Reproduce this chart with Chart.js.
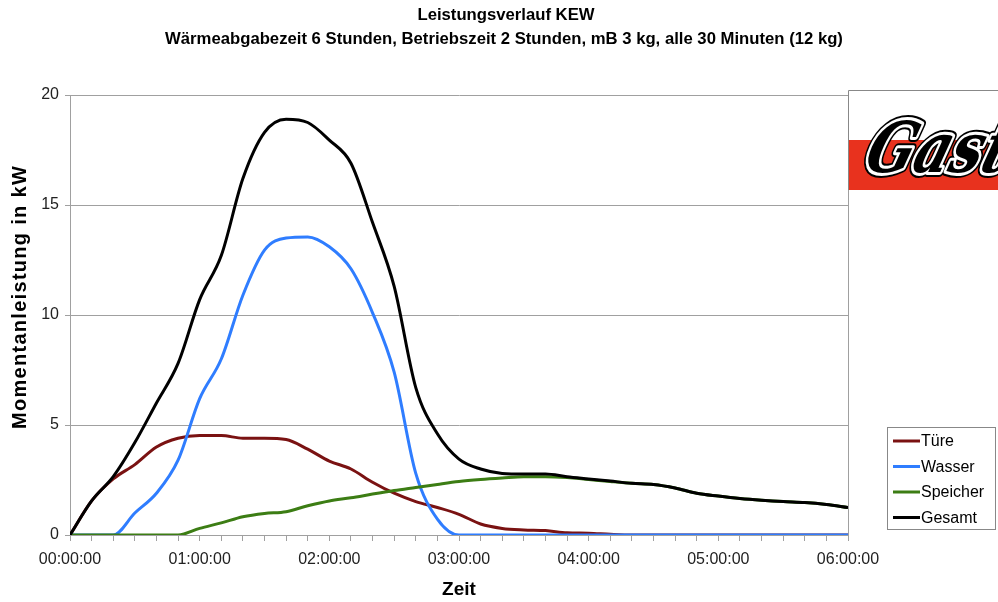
<!DOCTYPE html>
<html lang="de">
<head>
  <meta charset="UTF-8" />
  <title>Leistungsverlauf KEW</title>
  <script src="https://cdn.jsdelivr.net/npm/chart.js"></script>
  <style>
    html, body { margin: 0; padding: 0; background: #fff; }
    #wrap { width: 998px; height: 602px; position: relative; }
  </style>
</head>
<body>
  <div id="wrap"><canvas id="kew"></canvas></div>

  <script>
    // Zeitpunkte in Minuten (alle 10 Minuten)
    const minutes = [0, 10, 20, 30, 40, 50, 60, 70, 80, 90, 100, 110, 120, 130, 140, 150, 160, 170, 180,
      190, 200, 210, 220, 230, 240, 250, 260, 270, 280, 290, 300, 310, 320, 330, 340, 350, 360];

    const hourLabels = ['00:00:00', '01:00:00', '02:00:00', '03:00:00', '04:00:00', '05:00:00', '06:00:00'];

    // Momentanleistung in kW
    const tuere = [0, 1.55, 2.55, 3.2, 4.0, 4.4, 4.52, 4.52, 4.4, 4.4, 4.34, 3.9, 3.36, 3.0, 2.4, 1.9, 1.52, 1.25, 0.94,
      0.5, 0.3, 0.23, 0.2, 0.1, 0.08, 0.03, 0, 0, 0, 0, 0, 0, 0, 0, 0, 0, 0];
    const wasser = [0, 0, 0, 1.0, 1.9, 3.4, 6.2, 8.0, 10.9, 12.95, 13.5, 13.55, 13.1, 12.1, 10.1, 7.4, 2.8, 0.72, 0,
      0, 0, 0, 0, 0, 0, 0, 0, 0, 0, 0, 0, 0, 0, 0, 0, 0, 0];
    const speicher = [0, 0, 0, 0, 0, 0, 0.3, 0.55, 0.83, 0.98, 1.06, 1.33, 1.55, 1.69, 1.86, 2.02, 2.16, 2.3, 2.43,
      2.52, 2.59, 2.65, 2.65, 2.61, 2.52, 2.43, 2.35, 2.3, 2.14, 1.9, 1.77, 1.66, 1.58, 1.52, 1.48, 1.39, 1.25];
    const gesamt = [0, 1.55, 2.65, 4.2, 6.0, 7.8, 10.7, 12.7, 16.2, 18.3, 18.9, 18.75, 17.95, 16.9, 14.2, 11.3, 6.7, 4.6, 3.45,
      3.0, 2.8, 2.77, 2.77, 2.65, 2.55, 2.45, 2.35, 2.3, 2.14, 1.9, 1.77, 1.66, 1.58, 1.52, 1.48, 1.39, 1.25];

    const seriesNames = ['Türe', 'Wasser', 'Speicher', 'Gesamt'];
    const seriesColors = ['#7a1212', '#2f7dff', '#3c7d14', '#000000'];
    const seriesValues = [tuere, wasser, speicher, gesamt];

    const titleLines = ['Leistungsverlauf KEW',
      'Wärmeabgabezeit 6 Stunden, Betriebszeit 2 Stunden, mB 3 kg, alle 30 Minuten (12 kg)'];
    const yTitle = 'Momentanleistung in kW';

    const FONT = "'Liberation Sans', Arial, sans-serif";
    const GRID = '#a0a0a0';

    function points(values) {
      return minutes.map((m, i) => ({ x: m, y: values[i] }));
    }

    // Überschrift und y-Achsentitel (nicht auf den Plotbereich zentriert)
    const texts = {
      id: 'texts',
      afterDraw(chart) {
        const ctx = chart.ctx;
        ctx.save();
        ctx.fillStyle = '#000';
        ctx.textAlign = 'center';
        ctx.textBaseline = 'middle';
        ctx.font = 'bold 16.7px ' + FONT;
        ctx.fillText(titleLines[0], 506, 15);
        ctx.fillText(titleLines[1], 504, 39);

        ctx.translate(20, 297);
        ctx.rotate(-Math.PI / 2);
        ctx.font = 'bold 20px ' + FONT;
        ctx.letterSpacing = '1.3px';
        ctx.fillText(yTitle, 0, 0);
        ctx.restore();
      }
    };

    // Legende rechts unten im Kasten
    const boxLegend = {
      id: 'boxLegend',
      afterDraw(chart) {
        const ctx = chart.ctx;
        ctx.save();
        ctx.strokeStyle = '#888';
        ctx.lineWidth = 1;
        ctx.strokeRect(887.5, 427.5, 108, 102);
        const rows = [441, 466.5, 492, 517.5];
        ctx.font = '16px ' + FONT;
        ctx.textBaseline = 'middle';
        ctx.fillStyle = '#000';
        seriesNames.forEach((name, i) => {
          ctx.strokeStyle = seriesColors[i];
          ctx.lineWidth = 3;
          ctx.beginPath();
          ctx.moveTo(893, rows[i]);
          ctx.lineTo(920, rows[i]);
          ctx.stroke();
          ctx.fillText(name, 921, rows[i] + 1);
        });
        ctx.restore();
      }
    };

    // Firmenlogo oben rechts
    const logo = {
      id: 'logo',
      afterDraw(chart) {
        const ctx = chart.ctx;
        ctx.save();
        ctx.fillStyle = '#fff';
        ctx.fillRect(848, 91, 150, 99);
        ctx.fillStyle = '#e8321e';
        ctx.fillRect(848, 140, 150, 50);
        ctx.strokeStyle = '#888';
        ctx.lineWidth = 1;
        ctx.beginPath();
        ctx.moveTo(848.5, 190);
        ctx.lineTo(848.5, 90.5);
        ctx.lineTo(998, 90.5);
        ctx.stroke();
        ctx.beginPath();
        ctx.rect(849, 91, 149, 99);
        ctx.clip();
        ctx.translate(862, 172);
        ctx.transform(1, 0, -0.3, 1, 0, 0);
        ctx.scale(0.8, 1);
        ctx.font = "italic bold 70px 'DejaVu Serif', serif";
        ctx.textBaseline = 'alphabetic';
        ctx.lineJoin = 'round';
        ctx.strokeStyle = '#000';
        ctx.lineWidth = 10;
        ctx.strokeText('Gast', 0, 0);
        ctx.strokeStyle = '#fff';
        ctx.lineWidth = 6;
        ctx.strokeText('Gast', 0, 0);
        ctx.fillStyle = '#000';
        ctx.fillText('Gast', 0, 0);
        ctx.restore();
      }
    };

    const datasets = seriesNames.map((name, i) => ({
      label: name,
      data: points(seriesValues[i]),
      borderColor: seriesColors[i],
      backgroundColor: seriesColors[i],
      borderWidth: 3,
      pointRadius: 0,
      fill: false,
      cubicInterpolationMode: 'monotone',
      order: 4 - i
    }));

    new Chart(document.getElementById('kew'), {
      type: 'line',
      data: { datasets: datasets },
      options: {
        responsive: true,
        maintainAspectRatio: false,
        animation: false,
        layout: { padding: { left: 0, right: 150, top: 95, bottom: 0 } },
        plugins: {
          legend: { display: false },
          tooltip: { enabled: false },
          title: { display: false }
        },
        scales: {
          x: {
            type: 'linear',
            min: 0,
            max: 360,
            afterFit(scale) { scale.height = 67; },
            border: { color: GRID, width: 1 },
            grid: {
              drawOnChartArea: true,
              color: c => (c.tick && c.tick.value === 360 ? GRID : 'rgba(0,0,0,0)'),
              tickColor: GRID,
              tickLength: 6
            },
            ticks: {
              stepSize: 10,
              autoSkip: false,
              maxRotation: 0,
              padding: 9,
              color: '#222',
              font: { family: FONT, size: 16 },
              callback: v => (v % 60 === 0 ? hourLabels[v / 60] : '')
            },
            title: {
              display: true,
              text: 'Zeit',
              color: '#000',
              font: { family: FONT, size: 19, weight: 'bold' },
              padding: { top: 0, bottom: 1 }
            }
          },
          y: {
            min: 0,
            max: 20,
            afterFit(scale) { scale.width = 70; },
            border: { color: GRID, width: 1 },
            grid: { color: GRID, tickColor: GRID, tickLength: 5 },
            ticks: {
              stepSize: 5,
              padding: 6,
              color: '#222',
              font: { family: FONT, size: 16 }
            }
          }
        }
      },
      plugins: [texts, boxLegend, logo]
    });
  </script>
</body>
</html>
